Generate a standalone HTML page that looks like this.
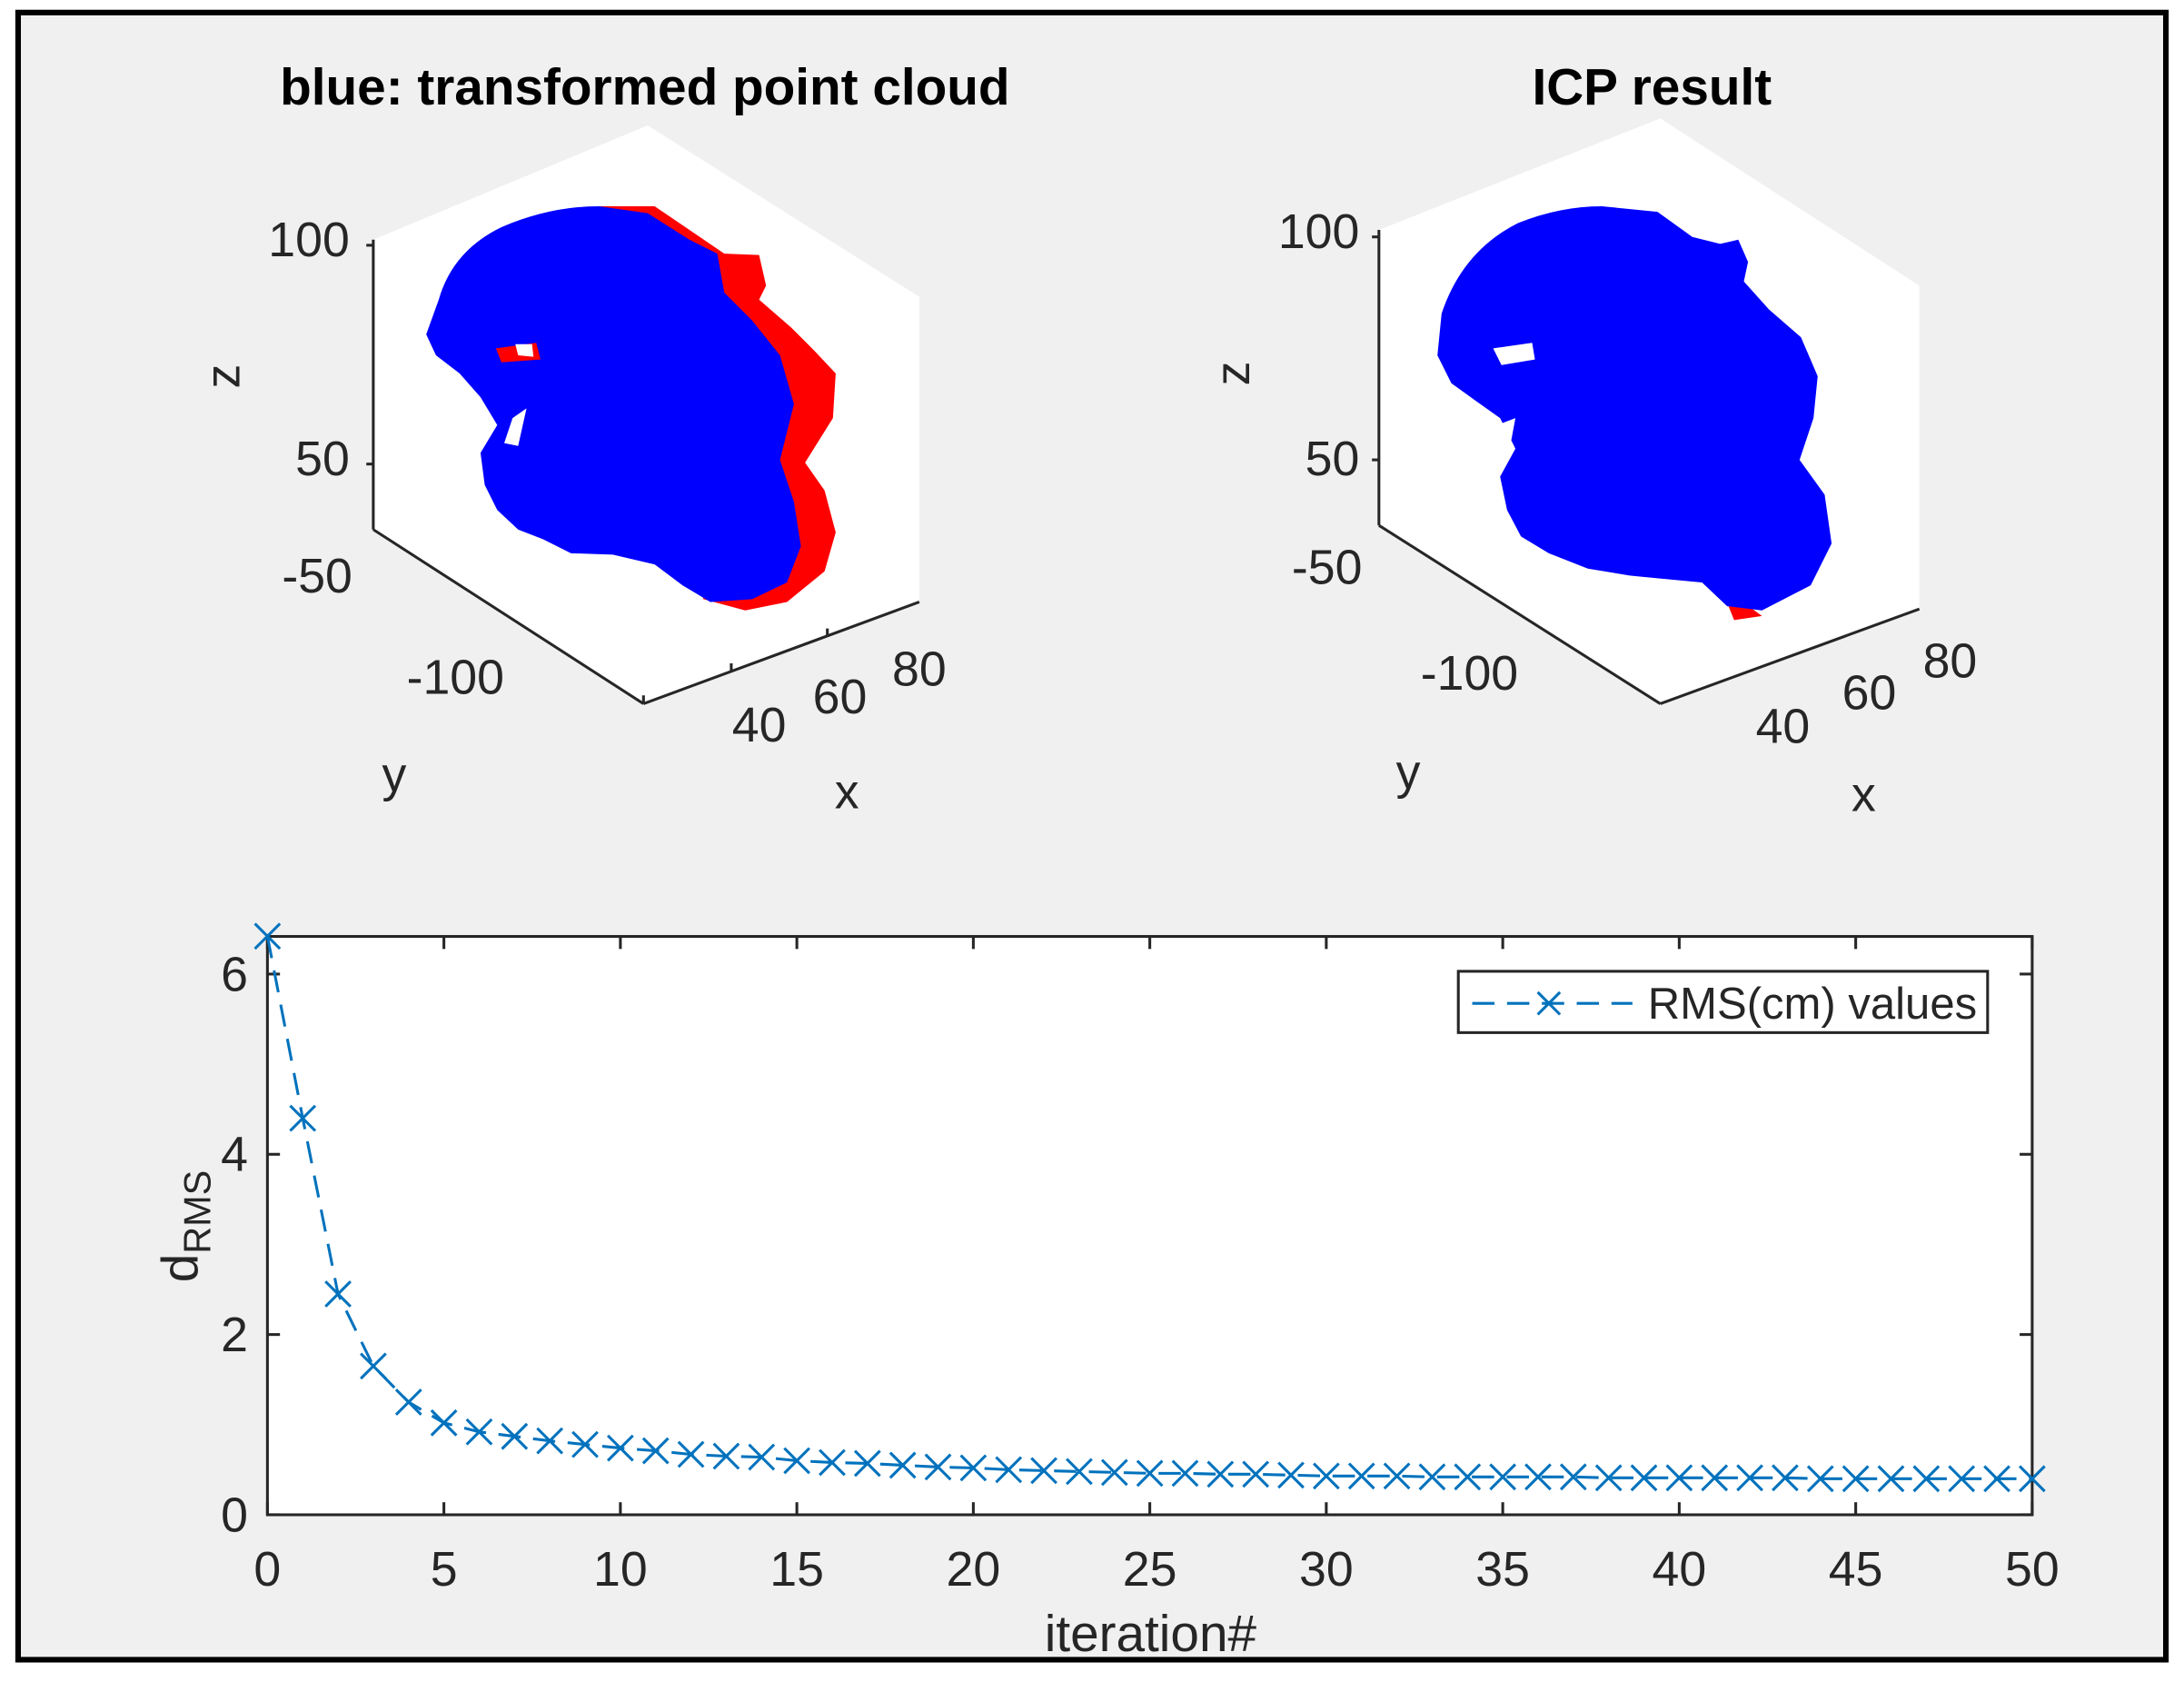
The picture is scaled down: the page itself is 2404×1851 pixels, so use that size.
<!DOCTYPE html>
<html><head><meta charset="utf-8"><style>
html,body{margin:0;padding:0;background:#fff;}
svg{display:block;}
text{font-family:"Liberation Sans",sans-serif;fill:#262626;}
</style></head><body>
<svg id="s" width="2404" height="1851" viewBox="0 0 1568 1207" preserveAspectRatio="none" xmlns="http://www.w3.org/2000/svg">
<rect x="0" y="0" width="1568" height="1207" fill="#fff"/>
<rect x="13" y="9" width="1542" height="1182" fill="#f0f0f0" stroke="#000" stroke-width="4"/>

<!-- Left 3D plot -->
<text x="463" y="75" font-size="37" font-weight="bold" text-anchor="middle" style="fill:#000">blue: transformed point cloud</text>
<polygon points="465,90 660,213 660,432 462,505 268,380 268,172" fill="#fff"/>
<path d="M430,148 L470,148 L495,165 L520,182 L545,183 L550,205 L545,215 L568,235 L585,252 L600,268 L598,300 L578,332 L592,352 L600,382 L592,410 L565,432 L535,438 L505,430 Z" fill="#f00"/>
<path d="M315,215 Q325,180 360,163 Q395,148 430,148 L465,153 L495,172 L515,182 L520,210 L540,230 L560,255 L570,290 L560,330 L570,360 L575,392 L565,418 L540,430 L510,432 L490,420 L470,405 L440,398 L410,397 L390,387 L372,380 L357,366 L348,348 L345,325 L357,305 L345,285 L330,268 L313,255 L306,240 Z" fill="#00f"/>
<path d="M356,250 L385,246 L388,258 L360,260 Z" fill="#f00"/>
<path d="M370,247 L382,247 L383,256 L372,255 Z" fill="#fff"/>
<path d="M368,300 L378,293 L372,320 L362,318 Z" fill="#fff"/>
<g stroke="#262626" stroke-width="2" fill="none">
<line x1="268" y1="172" x2="268" y2="380"/>
<line x1="268" y1="380" x2="462" y2="505"/>
<line x1="462" y1="505" x2="660" y2="432"/>
<line x1="268" y1="176" x2="263" y2="176"/><line x1="268" y1="333" x2="263" y2="333"/>
<line x1="462" y1="505" x2="462" y2="499"/><line x1="525" y1="482" x2="525" y2="476"/><line x1="594" y1="457" x2="594" y2="451"/>
</g>
<g font-size="35">
<text x="251" y="184" text-anchor="end">100</text>
<text x="251" y="341" text-anchor="end">50</text>
<text x="253" y="425" text-anchor="end">-50</text>
<text x="362" y="498" text-anchor="end">-100</text>
<text x="545" y="532" text-anchor="middle">40</text>
<text x="603" y="512" text-anchor="middle">60</text>
<text x="660" y="492" text-anchor="middle">80</text>
<text x="283" y="568" text-anchor="middle">y</text>
<text x="608" y="580" text-anchor="middle">x</text>
<text transform="translate(172,270) rotate(-90)" text-anchor="middle">z</text>
</g>

<!-- Right 3D plot -->
<text x="1186" y="75" font-size="37" font-weight="bold" text-anchor="middle" style="fill:#000">ICP result</text>
<polygon points="1192,85 1378,205 1378,437 1192,505 990,377 990,165" fill="#fff"/>
<path d="M1235,420 L1265,442 L1245,445 Z" fill="#f00"/>
<path d="M1035,225 Q1050,180 1090,160 Q1120,148 1150,148 L1190,152 L1215,170 L1235,175 L1248,172 L1255,188 L1252,202 L1270,222 L1293,242 L1305,270 L1302,300 L1292,330 L1310,355 L1315,390 L1300,420 L1265,438 L1240,435 L1222,418 L1190,415 L1170,413 L1140,408 L1112,397 L1092,385 L1082,366 L1077,342 L1088,322 L1077,300 L1060,288 L1042,275 L1032,255 Z" fill="#00f"/>
<path d="M1072,250 L1100,246 L1102,258 L1078,262 Z" fill="#fff"/>
<path d="M1075,305 L1088,300 L1082,332 L1072,330 Z" fill="#fff"/>
<g stroke="#262626" stroke-width="2" fill="none">
<line x1="990" y1="165" x2="990" y2="377"/>
<line x1="990" y1="377" x2="1192" y2="505"/>
<line x1="1192" y1="505" x2="1378" y2="437"/>
<line x1="990" y1="170" x2="985" y2="170"/><line x1="990" y1="330" x2="985" y2="330"/>
</g>
<g font-size="35">
<text x="976" y="178" text-anchor="end">100</text>
<text x="976" y="341" text-anchor="end">50</text>
<text x="978" y="419" text-anchor="end">-50</text>
<text x="1090" y="495" text-anchor="end">-100</text>
<text x="1280" y="533" text-anchor="middle">40</text>
<text x="1342" y="509" text-anchor="middle">60</text>
<text x="1400" y="486" text-anchor="middle">80</text>
<text x="1011" y="566" text-anchor="middle">y</text>
<text x="1338" y="582" text-anchor="middle">x</text>
<text transform="translate(897,268) rotate(-90)" text-anchor="middle">z</text>
</g>

<!-- Bottom plot -->
<rect x="192" y="672" width="1267" height="415" fill="#fff" stroke="#262626" stroke-width="2"/>
<g id="ticks" stroke="#262626" stroke-width="2"></g>
<g id="labels" font-size="35"></g>
<text x="826" y="1185" font-size="37" text-anchor="middle">iteration#</text>
<text transform="translate(142,880) rotate(-90)" font-size="37" text-anchor="middle">d<tspan font-size="27" dy="9">RMS</tspan></text>
<g id="series" stroke="#0072bd" stroke-width="2" fill="none"></g>
<rect x="1047" y="697" width="380" height="44" fill="#fff" stroke="#262626" stroke-width="2"/>
<g stroke="#0072bd" stroke-width="2">
<line x1="1057" y1="720" x2="1172" y2="720" stroke-dasharray="16,9"/>
<line x1="1104" y1="712" x2="1120" y2="728"/><line x1="1104" y1="728" x2="1120" y2="712"/>
</g>
<text x="1183" y="731" font-size="32">RMS(cm) values</text>
</svg>
<script>
var NS="http://www.w3.org/2000/svg";
function el(p,t,a){var e=document.createElementNS(NS,t);for(var k in a)e.setAttribute(k,a[k]);document.getElementById(p).appendChild(e);return e;}
var X=function(i){return 192+i*25.34;}, Y=function(v){return 1087-v*64.67;};
for(var i=0;i<=50;i+=5){var x=X(i);el("ticks","line",{x1:x,y1:1087,x2:x,y2:1078});el("ticks","line",{x1:x,y1:672,x2:x,y2:681});
var t=el("labels","text",{x:x,y:1138,"text-anchor":"middle"});t.textContent=i;}
for(var v=0;v<=6;v+=2){var y=Y(v);el("ticks","line",{x1:192,y1:y,x2:201,y2:y});el("ticks","line",{x1:1459,y1:y,x2:1450,y2:y});
var t=el("labels","text",{x:178,y:y+12,"text-anchor":"end"});t.textContent=v;}
var d=[6.42,4.4,2.45,1.65,1.25,1.02,0.92,0.87,0.82,0.78,0.74,0.71,0.67,0.65,0.64,0.60,0.58,0.57,0.55,0.53,0.52,0.50,0.49,0.48,0.47,0.46,0.46,0.45,0.45,0.44,0.43,0.43,0.43,0.42,0.42,0.42,0.42,0.42,0.41,0.41,0.41,0.41,0.41,0.41,0.40,0.40,0.40,0.40,0.40,0.40,0.40];
var pts=d.map(function(v,i){return X(i)+","+Y(v);}).join(" ");
el("series","polyline",{points:pts,"stroke-dasharray":"16,9"});
d.forEach(function(v,i){var x=X(i),y=Y(v);el("series","line",{x1:x-9,y1:y-9,x2:x+9,y2:y+9});el("series","line",{x1:x-9,y1:y+9,x2:x+9,y2:y-9});});
</script>
</body></html>
